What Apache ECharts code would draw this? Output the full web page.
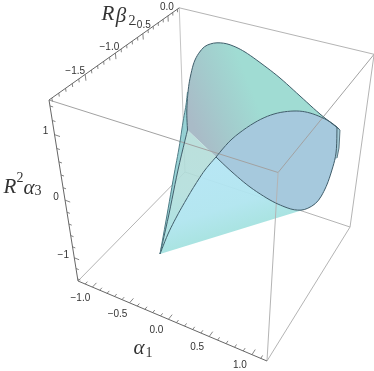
<!DOCTYPE html>
<html>
<head>
<meta charset="utf-8">
<style>html,body{margin:0;padding:0;background:#fff}#c{width:374px;height:371px}</style>
<script src="https://cdn.jsdelivr.net/npm/echarts@6/dist/echarts.min.js"></script>
</head>
<body>
<div id="c"></div>
<script>
// Axis ranges of the 3D box
const alpha1Range = [-1.2, 1.17];
const beta2Range = [-2.04, 0.24];
const alpha3Range = [-1.44, 1.48];

// Tick values
const alpha1Major = [-1, -0.5, 0, 0.5, 1];
const alpha1Minor = [-1.1, -0.9, -0.8, -0.7, -0.6, -0.4, -0.3, -0.2, -0.1, 0.1, 0.2, 0.3, 0.4, 0.6, 0.7, 0.8, 0.9, 1.1];
const beta2Major = [-1.5, -1, -0.5, 0];
const beta2Minor = [-2, -1.9, -1.8, -1.7, -1.6, -1.4, -1.3, -1.2, -1.1, -0.9, -0.8, -0.7, -0.6, -0.4, -0.3, -0.2, -0.1, 0.1, 0.2];
const alpha3Major = [-1, 0, 1];
const alpha3Minor = [-1.4, -1.2, -0.8, -0.6, -0.4, -0.2, 0.2, 0.4, 0.6, 0.8, 1.2, 1.4];
const alpha1Labels = ['\u22121.0', '\u22120.5', '0.0', '0.5', '1.0'];
const beta2Labels = ['\u22121.5', '\u22121.0', '\u22120.5', '0.0'];
const alpha3Labels = ['\u22121', '0', '1'];

// Surface outlines in the view plane
const backDome = [[187.5,130],[186.8,112],[188,92],[190.5,76],[195,60],[203,48],[212,43.5],[222,43],[232,45.5],[245,52],[262,64],[280,78],[300,96],[320,114],[339,129]];
const frontArc = [[337,127],[327,120],[310,113],[294,111],[274,114],[254,123],[232,139],[216,157]];
const lensLower = [[216,157],[232,172],[250,187],[270,200],[285,207],[296,210],[306,209],[317,202],[325,189],[331,173],[336,153],[337,127]];
const coneArc = [[216,157],[205,170],[195,185],[186,200],[177,216],[168,234],[160,254]];
const innerEdge = [[160,254],[169,214],[178,170],[187.5,130]];
const outerEdge = [[160,254],[167,215],[174,175],[179,148],[183,122],[186,105],[187.5,92]];
const rightSliver = [[337,127],[340,130],[339,148],[337,158],[335,160],[336,155]];

const chart = echarts.init(document.getElementById('c'), null, {renderer: 'canvas'});

// Draw-time curve through the read points (Catmull-Rom rendering of the outline)
function spline(pts) {
  const out = [];
  for (let i = 0; i < pts.length - 1; i++) {
    const p0 = pts[Math.max(0, i - 1)], p1 = pts[i], p2 = pts[i + 1], p3 = pts[Math.min(pts.length - 1, i + 2)];
    for (let k = 0; k < 6; k++) {
      const t = k / 6, t2 = t * t, t3 = t2 * t;
      out.push([0, 1].map(d => 0.5 * (2 * p1[d] + (p2[d] - p0[d]) * t + (2 * p0[d] - 5 * p1[d] + 4 * p2[d] - p3[d]) * t2 + (3 * p1[d] - p0[d] - 3 * p2[d] + p3[d]) * t3)));
    }
  }
  out.push(pts[pts.length - 1]);
  return out;
}
const domeS = spline(backDome), arcS = spline(frontArc), lensS = spline(lensLower), coneS = spline(coneArc), innerS = spline(innerEdge), outerS = spline(outerEdge);

// View of the box: fitted perspective camera
const cam = [[160.9, 143.63, -37.33, 78], [42.03, -74.94, -198, 281], [-0.1052, 0.198, -0.17, 1]];
function project(a, b, z) {
  const u = (a - alpha1Range[0]) / (alpha1Range[1] - alpha1Range[0]);
  const v = (b - beta2Range[0]) / (beta2Range[1] - beta2Range[0]);
  const w = (z - alpha3Range[0]) / (alpha3Range[1] - alpha3Range[0]);
  const h = cam[2][0] * u + cam[2][1] * v + cam[2][2] * w + cam[2][3];
  return [
    (cam[0][0] * u + cam[0][1] * v + cam[0][2] * w + cam[0][3]) / h,
    (cam[1][0] * u + cam[1][1] * v + cam[1][2] * w + cam[1][3]) / h
  ];
}
const aLo = alpha1Range[0], aHi = alpha1Range[1], bLo = beta2Range[0], bHi = beta2Range[1], zLo = alpha3Range[0], zHi = alpha3Range[1];
const corner = (i, j, k) => project(i ? aHi : aLo, j ? bHi : bLo, k ? zHi : zLo);

function line(pts, color, width, z) {
  return {type: 'line', data: pts, showSymbol: false, symbol: 'none', silent: true, animation: false, clip: false,
    smooth: false, lineStyle: {color: color, width: width}, z: z || 2};
}
function poly(pts, fill, z, opacity) {
  return {type: 'custom', coordinateSystem: 'cartesian2d', data: [pts[0]], silent: true, animation: false, clip: false, z: z,
    renderItem: (p, api) => ({type: 'polygon', shape: {points: pts.map(q => api.coord(q))},
      style: {fill: typeof fill === 'function' ? fill(api) : fill, opacity: opacity}})};
}
function grad(a, b, stops, api) {
  const p = api.coord(a), q = api.coord(b);
  return new echarts.graphic.LinearGradient(p[0], p[1], q[0], q[1], stops.map(c => ({offset: c[0], color: c[1]})), true);
}
function texts(items, font, z) {
  return {type: 'custom', coordinateSystem: 'cartesian2d', data: items.map(t => [t.x, t.y]), silent: true, animation: false, clip: false, z: z || 9,
    renderItem: (p, api) => {
      const t = items[p.dataIndex], q = api.coord([t.x, t.y]);
      return {type: 'text', x: q[0], y: q[1], style: {text: t.s, fill: '#333', align: 'center', verticalAlign: 'middle',
        fontFamily: font.family, fontSize: t.size || font.size, fontStyle: t.italic === false ? 'normal' : font.style}};
    }};
}

const series = [];
// back box edges, under the surfaces
const backEdge = '#b4b4b4';
series.push(line([corner(0,1,1), corner(1,1,1)], backEdge, 1));
series.push(line([corner(0,1,1), corner(0,1,0)], '#c4c4c4', 1));
series.push(line([corner(0,0,0), corner(0,1,0)], backEdge, 1));
series.push(line([corner(0,1,0), corner(1,1,0)], backEdge, 1));
series.push(line([corner(1,1,1), corner(1,1,0)], backEdge, 1));
series.push(line([corner(1,0,0), corner(1,1,0)], backEdge, 1));

// surfaces
const edge = '#3f5d6a';
series.push(poly(outerS.concat(innerS.slice().reverse()), '#8ccdd0', 3, 0.9));
series.push(poly(domeS.concat(arcS),
  api => grad([187, 110], [250, 85], [[0,'#a9bbc7'],[0.5,'#a3cccd'],[1,'#a0dcd3']], api), 3, 1));
series.push(poly(innerS.concat(coneS),
  api => grad([205, 135], [170, 230], [[0,'#b4dcd8'],[0.6,'#b2dedb'],[1,'#a6dfe0']], api), 3, 0.9));
const lensPart = lensS.slice(0, 37);
series.push(poly(coneS.slice().reverse().concat(lensPart),
  api => grad([205, 175], [223, 234], [[0,'#b3e5f3'],[0.6,'#b0e5ef'],[1,'#a5e2e0']], api), 3, 0.95));
series.push(poly(arcS.concat(lensS), '#a3c7dc', 4, 0.97));
series.push(poly(rightSliver, '#a4cbd6', 4, 1));

// near box edges, seen through the surfaces
const nearEdge = '#a2a2a2';
series.push(line([corner(0,0,1), corner(1,0,1)], nearEdge, 1, 6));
series.push(line([corner(1,0,1), corner(1,1,1)], nearEdge, 1, 6));
series.push(line([corner(1,0,1), corner(1,0,0)], '#b4b4b4', 1, 6));

// surface outlines
series.push(line(domeS, edge, 1, 7));
series.push(line(arcS, edge, 1, 7));
series.push(line(lensS, edge, 1, 7));
series.push(line(coneS, edge, 1, 7));
series.push(line(innerS, edge, 1, 7));
series.push(line(outerS, '#4f7c86', 1, 7));
series.push(line(rightSliver.slice(0, 4), edge, 0.8, 7));

// axes
const axisColor = '#666';
series.push(line([corner(0,0,0), corner(1,0,0)], axisColor, 1, 8));
series.push(line([corner(0,0,1), corner(0,1,1)], axisColor, 1, 8));
series.push(line([corner(0,0,0), corner(0,0,1)], axisColor, 1, 8));

function ticks(values, fn, col) {
  values.forEach(t => { series.push(line(fn(t), col, 0.8, 8)); });
}
const dv = (bHi - bLo), du = (aHi - aLo), dw = (zHi - zLo);
ticks(alpha1Major, t => [project(t, bLo, zLo), project(t, bLo + 0.032 * dv, zLo)], axisColor);
ticks(alpha1Minor, t => [project(t, bLo, zLo), project(t, bLo + 0.018 * dv, zLo)], axisColor);
ticks(beta2Major, t => [project(aLo, t, zHi), project(aLo, t, zHi - 0.03 * dw)], axisColor);
ticks(beta2Minor, t => [project(aLo, t, zHi), project(aLo, t, zHi - 0.016 * dw)], axisColor);
ticks(alpha3Major, t => [project(aLo, bLo, t), project(aLo + 0.028 * du, bLo, t)], axisColor);
ticks(alpha3Minor, t => [project(aLo, bLo, t), project(aLo + 0.016 * du, bLo, t)], axisColor);

// tick labels
const sans = {family: '"Liberation Sans", Arial, sans-serif', size: 10, style: 'normal'};
const betaOffX = [-10, -6, -2, -1], betaOffY = [-3, -6, -8, -9];
const tickItems = [];
alpha1Major.forEach((t, i) => { const q = project(t, bLo, zLo); tickItems.push({s: alpha1Labels[i], x: q[0] - 12, y: q[1] + 11}); });
beta2Major.forEach((t, i) => { const q = project(aLo, t, zHi); tickItems.push({s: beta2Labels[i], x: q[0] + betaOffX[i], y: q[1] + betaOffY[i]}); });
alpha3Major.forEach((t, i) => { const q = project(aLo, bLo, t); tickItems.push({s: alpha3Labels[i], x: q[0] - (t === -1 ? 11 : 9), y: q[1] - 3}); });
series.push(texts(tickItems, sans));

// axis titles
const serif = {family: '"Liberation Serif", "DejaVu Serif", serif', size: 21, style: 'italic'};
series.push(texts([
  {s: 'R', x: 108, y: 14}, {s: '\u03b2', x: 121, y: 16}, {s: '2', x: 132, y: 21, size: 14, italic: false},
  {s: 'R', x: 10, y: 187}, {s: '2', x: 20, y: 178, size: 14, italic: false}, {s: '\u03b1', x: 29, y: 188}, {s: '3', x: 38, y: 191, size: 14, italic: false},
  {s: '\u03b1', x: 139, y: 348}, {s: '1', x: 149, y: 353, size: 14, italic: false}
], serif));

chart.setOption({
  animation: false,
  backgroundColor: '#fff',
  grid: {left: 0, right: 0, top: 0, bottom: 0},
  xAxis: {type: 'value', min: 0, max: 374, show: false},
  yAxis: {type: 'value', min: 0, max: 371, inverse: true, show: false},
  series: series
});
</script>
</body>
</html>
